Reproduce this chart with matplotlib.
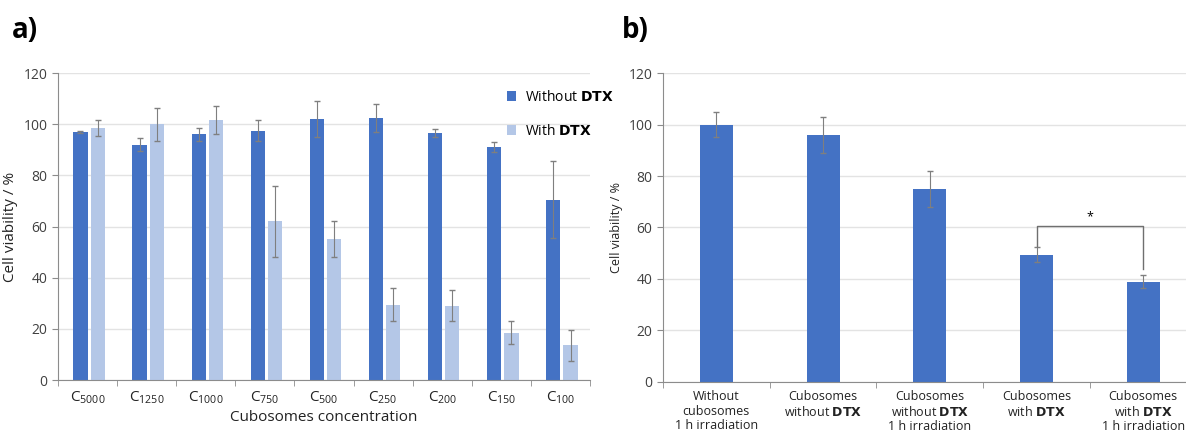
import numpy as np
import matplotlib.pyplot as plt

plt.rcParams['font.family'] = ['Open Sans', 'DejaVu Sans']
plt.rcParams['mathtext.default'] = 'regular'

# panel a data
conc = ['5000', '1250', '1000', '750', '500', '250', '200', '150', '100']
without_dtx = [97, 92, 96, 97.5, 102, 102.5, 96.5, 91, 70.5]
without_err = [0.5, 2.5, 2.5, 4, 7, 5.5, 1.5, 2, 15]
with_dtx = [98.5, 100, 101.5, 62, 55, 29.5, 29, 18.5, 13.5]
with_err = [3, 6.5, 5.5, 14, 7, 6.5, 6, 4.5, 6]

# panel b data
groups_b = ['Without\ncubosomes\n1 h irradiation',
            'Cubosomes\nwithout $\\mathbf{DTX}$',
            'Cubosomes\nwithout $\\mathbf{DTX}$\n1 h irradiation',
            'Cubosomes\nwith $\\mathbf{DTX}$',
            'Cubosomes\nwith $\\mathbf{DTX}$\n1 h irradiation']
viab_b = [100, 96, 75, 49.5, 39]
err_b = [5, 7, 7, 3, 2.5]

dark = '#4472C4'
light = '#B4C7E7'
errc = '#7F7F7F'
gridc = '#E3E3E3'
spinec = '#8C8C8C'

fig = plt.figure(figsize=(11.86, 4.33), dpi=100)
ax1 = fig.add_axes([0.0489, 0.1224, 0.4486, 0.709])
ax2 = fig.add_axes([0.559, 0.1178, 0.441, 0.7136])


def style(ax, n, xmax):
    ax.set_ylim(0, 120)
    ax.set_yticks(range(0, 121, 20))
    ax.yaxis.grid(True, color=gridc, lw=1)
    ax.set_axisbelow(True)
    for s in ['top', 'right']:
        ax.spines[s].set_visible(False)
    for s in ['left', 'bottom']:
        ax.spines[s].set_color(spinec)
    ax.tick_params(axis='y', colors=spinec, labelcolor='#404040', labelsize=10, length=4)
    ax.tick_params(axis='x', which='major', length=0, labelcolor='#222222', pad=7)
    ax.set_xticks(np.arange(n + 1) - 0.5, minor=True)
    ax.tick_params(axis='x', which='minor', length=4, color=spinec)
    ax.set_xlim(-0.5, xmax)


x = np.arange(len(conc))
ax1.bar(x - 0.12, without_dtx, width=0.24, color=dark, label='Without $\\mathbf{DTX}$')
ax1.errorbar(x - 0.12, without_dtx, yerr=without_err, fmt='none', ecolor=errc, elinewidth=0.8, capsize=2)
ax1.bar(x + 0.17, with_dtx, width=0.24, color=light, label='With $\\mathbf{DTX}$')
ax1.errorbar(x + 0.17, with_dtx, yerr=with_err, fmt='none', ecolor=errc, elinewidth=0.8, capsize=2)
ax1.set_xticks(x)
ax1.set_xticklabels(['C$_{' + c + '}$' for c in conc], fontsize=11)
style(ax1, len(conc), 8.5)
ax1.set_xlabel('Cubosomes concentration', fontsize=11, color='#222222', labelpad=3)
ax1.set_ylabel('Cell viability / %', fontsize=11, color='#222222', labelpad=4)
ax1.legend(loc='upper left', bbox_to_anchor=(0.82, 0.985), frameon=False, fontsize=10,
           handlelength=0.7, handleheight=0.7, handletextpad=0.6, labelspacing=1.35)

xb = np.arange(len(groups_b))
ax2.bar(xb, viab_b, width=0.31, color=dark)
ax2.errorbar(xb, viab_b, yerr=err_b, fmt='none', ecolor=errc, elinewidth=0.8, capsize=2)
ax2.set_xticks(xb)
ax2.set_xticklabels(groups_b, fontsize=9, linespacing=1.15)
style(ax2, len(groups_b), 4.4)
ax2.tick_params(axis='x', which='major', pad=6)
ax2.set_ylabel('Cell viability / %', fontsize=9, color='#222222')

# significance bracket
ax2.plot([3, 3, 4, 4], [53, 60.5, 60.5, 44], color='#6F6F6F', lw=1)
ax2.text(3.5, 61.5, '*', ha='center', va='bottom', fontsize=9)

fig.text(0.010, 0.93, 'a)', fontsize=20, fontweight='bold', va='center')
fig.text(0.524, 0.93, 'b)', fontsize=20, fontweight='bold', va='center')

fig.savefig('out.png', dpi=100)
